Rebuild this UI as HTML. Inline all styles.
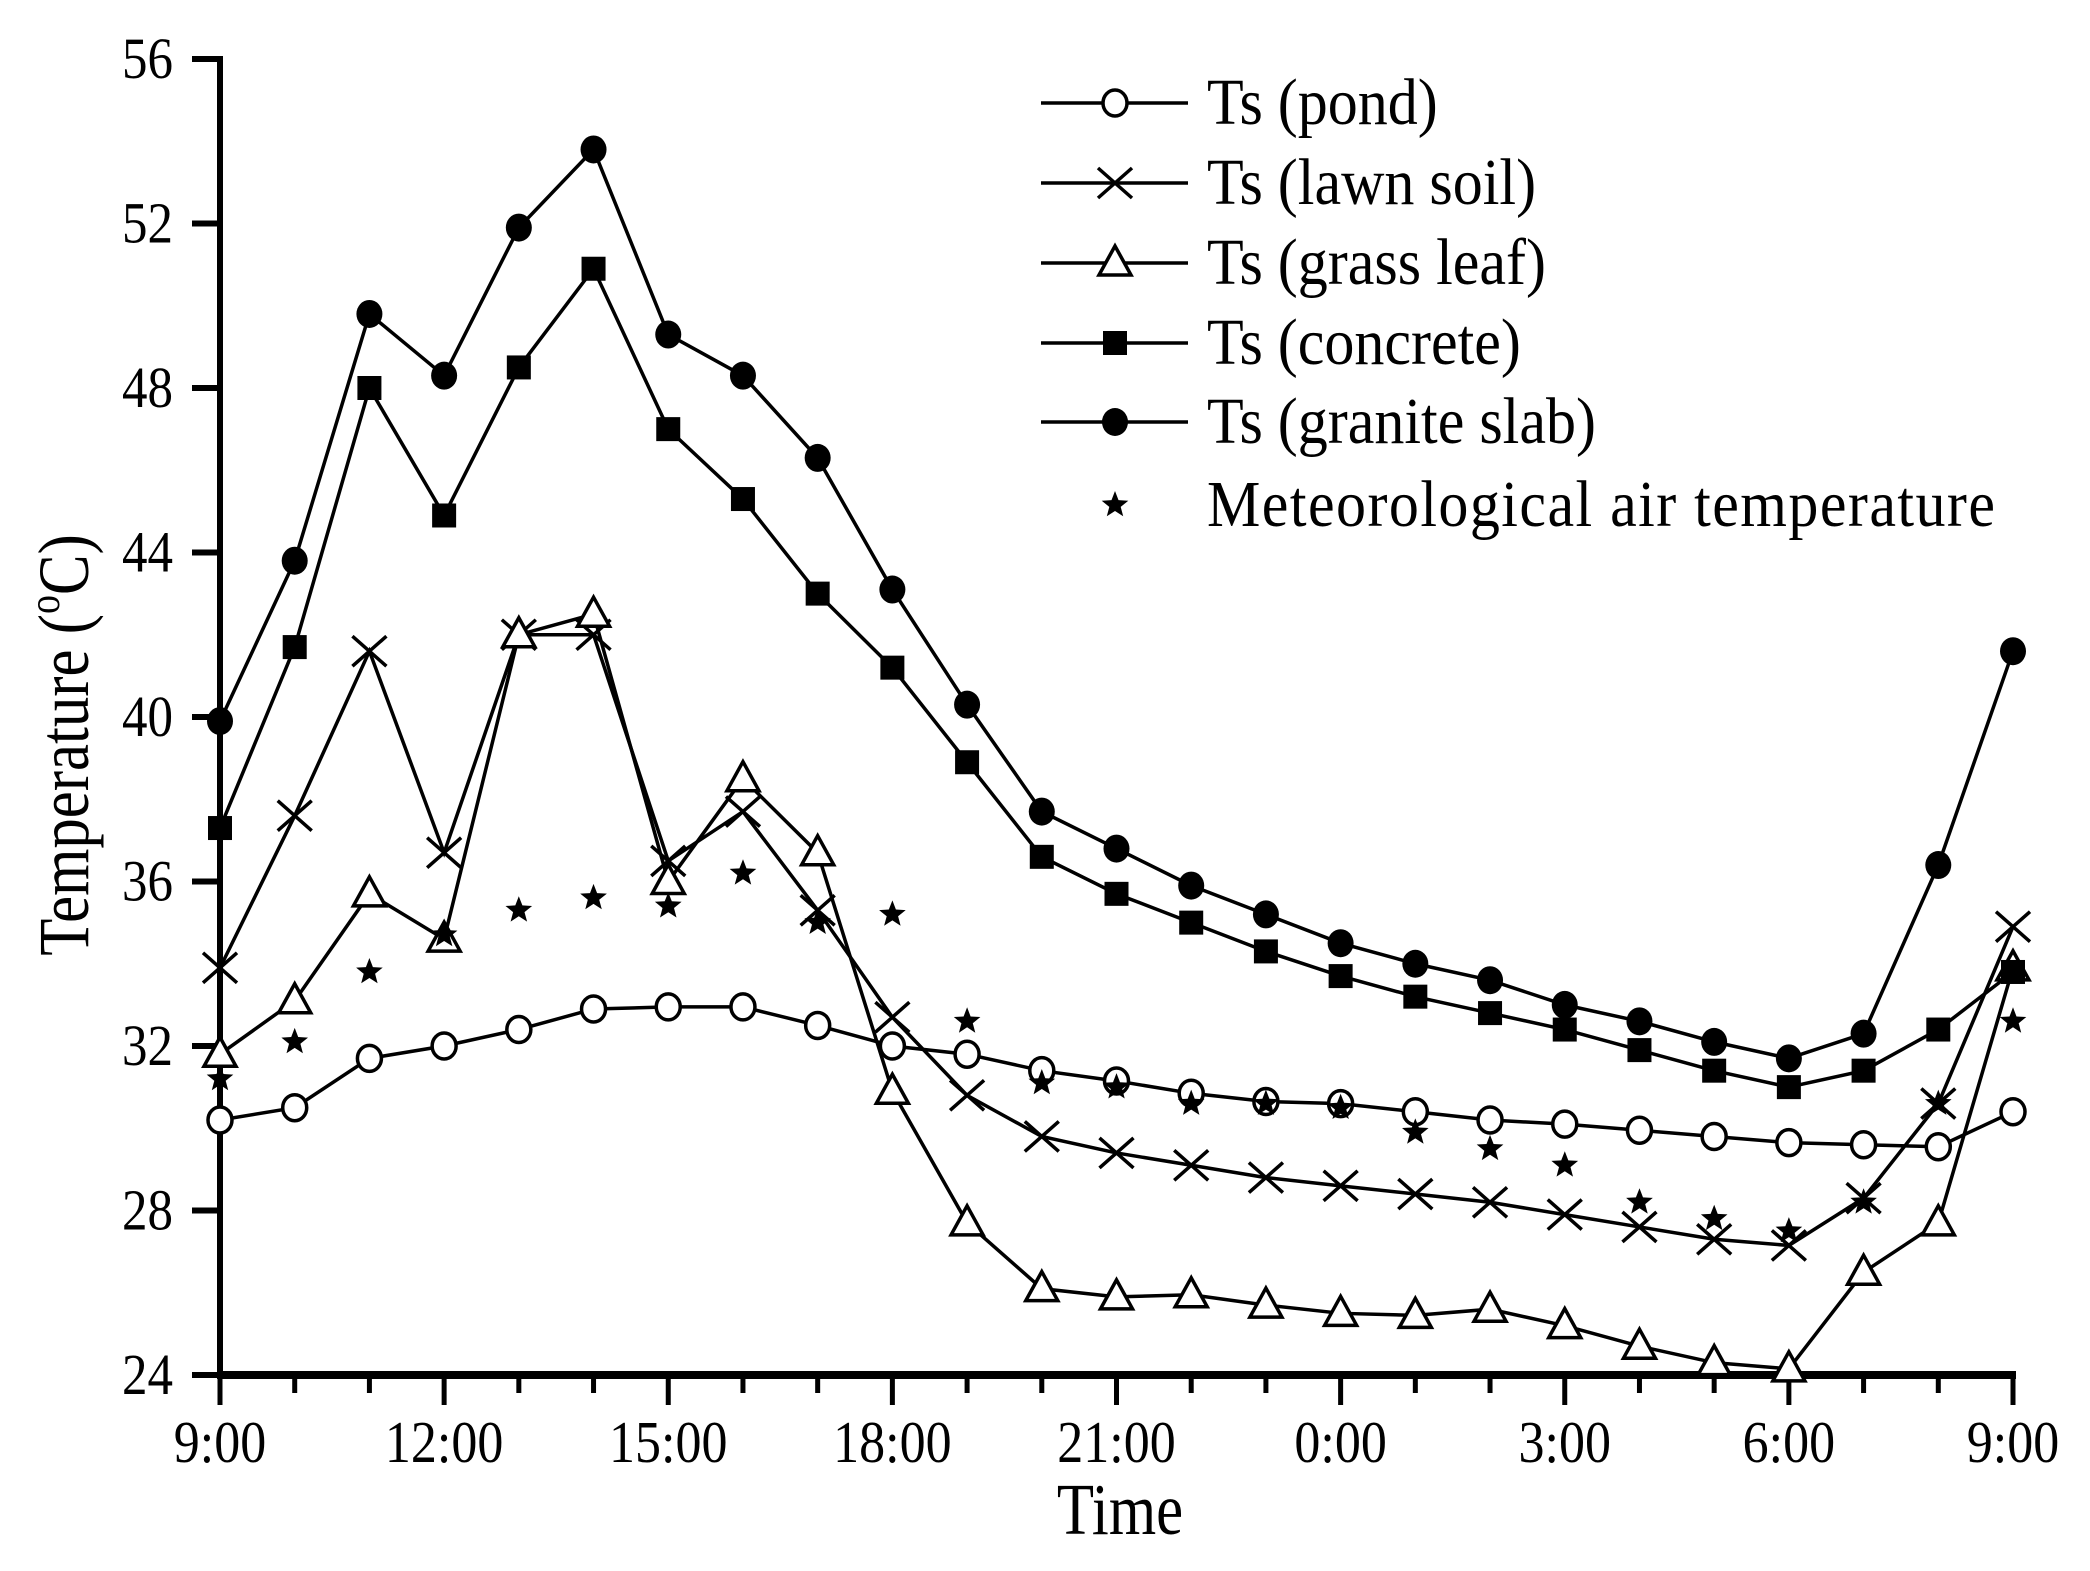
<!DOCTYPE html>
<html><head><meta charset="utf-8"><style>
html,body{margin:0;padding:0;background:#fff}
svg{display:block}
text{font-family:"Liberation Serif",serif;fill:#000}
</style></head><body>
<svg id="chart" width="2090" height="1571" viewBox="0 0 2090 1571" xmlns="http://www.w3.org/2000/svg">
<g id="axes"></g>
<g id="series"></g>
<g id="legend"></g>
<text transform="translate(1120,1534) scale(0.95,1.15)" font-size="64" text-anchor="middle">Time</text>
<text transform="translate(88,745) rotate(-90) scale(0.95,1.12)" font-size="64" text-anchor="middle">Temperature (<tspan font-size="40" dy="-26">o</tspan><tspan dy="26">C)</tspan></text>
</svg>
<script>
const xLabels = ["9:00","12:00","15:00","18:00","21:00","0:00","3:00","6:00","9:00"];
const yTicks = [24,28,32,36,40,44,48,52,56];
const pond = [30.2,30.5,31.7,32.0,32.4,32.9,32.95,32.95,32.5,32.0,31.8,31.4,31.15,30.85,30.65,30.6,30.4,30.2,30.1,29.95,29.8,29.65,29.6,29.55,30.4];
const lawn = [33.9,37.6,41.6,36.7,42.0,42.0,36.5,37.7,35.3,32.7,30.8,29.8,29.4,29.1,28.8,28.6,28.4,28.2,27.9,27.6,27.3,27.15,28.3,30.6,34.9];
const grass = [31.8,33.1,35.7,34.6,42.0,42.5,36.0,38.5,36.7,30.9,27.7,26.1,25.9,25.95,25.7,25.5,25.45,25.6,25.2,24.7,24.3,24.15,26.5,27.7,33.9];
const concrete = [37.3,41.7,48.0,44.9,48.5,50.9,47.0,45.3,43.0,41.2,38.9,36.6,35.7,35.0,34.3,33.7,33.2,32.8,32.4,31.9,31.4,31.0,31.4,32.4,33.8];
const granite = [39.9,43.8,49.8,48.3,51.9,53.8,49.3,48.3,46.3,43.1,40.3,37.7,36.8,35.9,35.2,34.5,34.0,33.6,33.0,32.6,32.1,31.7,32.3,36.4,41.6];
const air = [31.2,32.1,33.8,34.7,35.3,35.6,35.4,36.2,35.0,35.2,32.6,31.1,31.0,30.6,30.6,30.5,29.9,29.5,29.1,28.2,27.8,27.5,28.2,30.6,32.6];

const NS="http://www.w3.org/2000/svg";
const X0=220,X1=2013,Y0=1375,Y1=59,YMIN=24,YMAX=56,NPTS=25;
const xs=i=>X0+(X1-X0)*i/(NPTS-1);
const ys=v=>Y0-(Y0-Y1)*(v-YMIN)/(YMAX-YMIN);
function mk(tag,attrs,parent){const e=document.createElementNS(NS,tag);for(const k in attrs)e.setAttribute(k,attrs[k]);parent.appendChild(e);return e;}
const axes=document.getElementById('axes'),ser=document.getElementById('series'),leg=document.getElementById('legend');

let yax=mk('line',{x1:X0,y1:Y1-3,x2:X0,y2:Y0+3,stroke:'#000','stroke-width':6},axes);


let xax=mk('line',{x1:X0-3,y1:Y0,x2:X1+3,y2:Y0,stroke:'#000','stroke-width':8},axes);


yTicks.forEach(v=>{
  let t=mk('line',{x1:X0-28,y1:ys(v),x2:X0,y2:ys(v),stroke:'#000','stroke-width':6},axes);
  
  
  let l=mk('text',{transform:`translate(173,${ys(v)+19}) scale(1,1.15)`,'font-size':51,'text-anchor':'end'},axes);l.textContent=v;
  
  
});
for(let i=0;i<NPTS;i++){
  const major=i%3===0;
  let t=mk('line',{x1:xs(i),y1:Y0,x2:xs(i),y2:Y0+(major?30:18),stroke:'#000','stroke-width':5},axes);
  
  
}
xLabels.forEach((s,k)=>{
  let l=mk('text',{transform:`translate(${xs(k*3)},1462) scale(1,1.15)`,'font-size':52,'text-anchor':'middle'},axes);l.textContent=s;
  
  
});

function marker(type,x,y,g){
  if(type==='circle-open')return mk('ellipse',{cx:x,cy:y,rx:12,ry:13,fill:'#fff',stroke:'#000','stroke-width':3.5},g);
  if(type==='circle')return mk('ellipse',{cx:x,cy:y,rx:13,ry:14,fill:'#000'},g);
  if(type==='square')return mk('rect',{x:x-12,y:y-12,width:24,height:24,fill:'#000'},g);
  if(type==='tri')return mk('polygon',{points:`${x},${y-17} ${x-16},${y+12} ${x+16},${y+12}`,fill:'#fff',stroke:'#000','stroke-width':3.5},g);
  if(type==='x')return mk('path',{d:`M${x-17},${y-15}L${x+17},${y+15}M${x-17},${y+15}L${x+17},${y-15}`,stroke:'#000','stroke-width':3.5,fill:'none'},g);
  if(type==='star'){let p=[];for(let k=0;k<10;k++){const r=k%2?6:14,a=-Math.PI/2+k*Math.PI/5;p.push((x+r*Math.cos(a)).toFixed(1)+','+(y+r*Math.sin(a)).toFixed(1));}return mk('polygon',{points:p.join(' '),fill:'#000'},g);}
}
const defs=[
  {name:'pond',data:pond,m:'circle-open',label:'Ts (pond)'},
  {name:'lawn-soil',data:lawn,m:'x',label:'Ts (lawn soil)'},
  {name:'grass-leaf',data:grass,m:'tri',label:'Ts (grass leaf)'},
  {name:'concrete',data:concrete,m:'square',label:'Ts (concrete)'},
  {name:'granite-slab',data:granite,m:'circle',label:'Ts (granite slab)'},
  {name:'air-temperature',data:air,m:'star',label:'Meteorological air temperature',noline:true}
];
defs.forEach(d=>{
  const g=mk('g',{},ser);
  
  
  if(!d.noline){
    let pl=mk('polyline',{points:d.data.map((v,i)=>xs(i)+','+ys(v)).join(' '),fill:'none',stroke:'#000','stroke-width':3.5},g);
    
    
  }
  d.data.forEach((v,i)=>{
    let m=marker(d.m,xs(i),ys(v),g);
    
    
  });
});
const rows=[103,183,263,343,422,505];
defs.forEach((d,k)=>{
  const g=mk('g',{},leg);
  
  
  const y=rows[k];
  if(!d.noline)mk('line',{x1:1041,y1:y,x2:1188,y2:y,stroke:'#000','stroke-width':3.5},g);
  marker(d.m,1115,y,g);
  let t=mk('text',{transform:`translate(1207,${y+21}) scale(1,1.1)`,'font-size':60},g);t.textContent=d.label;
  if(d.noline)t.setAttribute('textLength',788);
});
</script>
</body></html>
